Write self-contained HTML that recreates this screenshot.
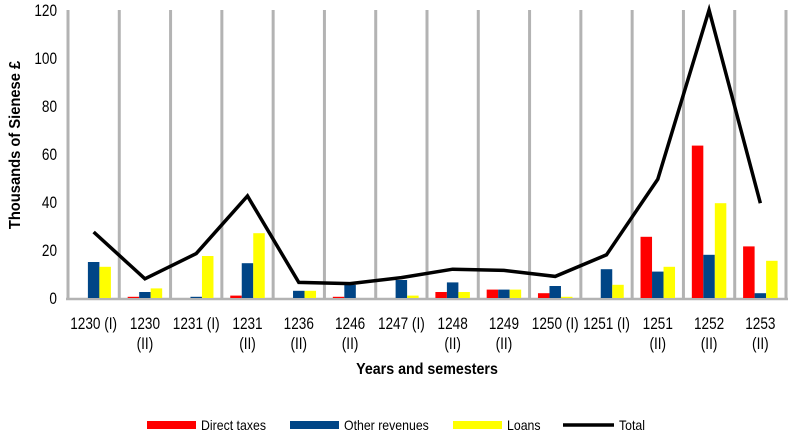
<!DOCTYPE html>
<html><head><meta charset="utf-8"><style>
body{margin:0;background:#fff;}
svg text{font-family:"Liberation Sans Narrow","Liberation Sans",Arial,sans-serif;}
</style></head><body>
<svg id="chart" width="791" height="433" viewBox="0 0 791 433">
<g id="grid"></g>
<g id="bars"></g>
<g id="line"></g>
<g id="yt"></g>
<g id="xt"></g>
<text transform="translate(20 145) rotate(-90) scale(0.92 1)" text-anchor="middle" font-size="16" font-weight="bold">Thousands of Sienese £</text>
<text transform="translate(427 374) scale(0.92 1)" text-anchor="middle" font-size="15.5" font-weight="bold">Years and semesters</text>
<g>
<rect x="147" y="421" width="49" height="8" fill="#ff0000"/>
<text transform="translate(201 430) scale(0.88 1)" font-size="14">Direct taxes</text>
<rect x="290" y="421" width="49" height="8" fill="#004586"/>
<text transform="translate(344 430) scale(0.88 1)" font-size="14">Other revenues</text>
<rect x="453" y="421" width="49" height="8" fill="#ffff00"/>
<text transform="translate(507 430) scale(0.88 1)" font-size="14">Loans</text>
<line x1="563" y1="425" x2="614" y2="425" stroke="#000" stroke-width="3.5"/>
<text transform="translate(619 430) scale(0.88 1)" font-size="14">Total</text>
</g>
</svg>
<script>
const categories=[["1230 (I)"],["1230","(II)"],["1231 (I)"],["1231","(II)"],["1236","(II)"],["1246","(II)"],["1247 (I)"],["1248","(II)"],["1249","(II)"],["1250 (I)"],["1251 (I)"],["1251","(II)"],["1252","(II)"],["1253","(II)"]];
const directTaxes=[0,0.5,0,1,0,0.5,0,2.5,3.5,2,0,25.5,63.5,21.5];
const otherRevenues=[15,2.5,0.5,14.5,3,5.5,7.5,6.5,3.5,5,12,11,18,2];
const loans=[13,4,17.5,27,3,0,1,2.5,3.5,0.5,5.5,13,39.5,15.5];
const total=[27.5,8,18.5,42.5,6.5,6,8.5,12,11.5,9,18,49.5,120,39.5];
const yTicks=[0,20,40,60,80,100,120];
const NS='http://www.w3.org/2000/svg';
const X0=68,W=718,Y0=298,YTOP=10,YMAX=120;
const step=W/categories.length;
const y=v=>Y0-(v/YMAX)*(Y0-YTOP);
const xc=i=>X0+step*(i+0.5);
function mk(t,a,p){const e=document.createElementNS(NS,t);for(const k in a)e.setAttribute(k,a[k]);p.appendChild(e);return e;}
const grid=document.getElementById('grid');
for(let i=0;i<=categories.length;i++){
 const l=mk('line',{x1:X0+step*i,x2:X0+step*i,y1:YTOP,y2:Y0,stroke:'#b3b3b3','stroke-width':3},grid);
 
 
}
const ax=mk('line',{x1:X0-2,x2:X0+W+2,y1:Y0+1,y2:Y0+1,stroke:'#b3b3b3','stroke-width':2.5},grid);


const bars=document.getElementById('bars');
const series=[[directTaxes,'#ff0000','direct-taxes'],[otherRevenues,'#004586','other-revenues'],[loans,'#ffff00','loans']];
const bw=11.5;
series.forEach((s,si)=>{s[0].forEach((v,i)=>{
 const bx=xc(i)+(si-1.5)*bw;
 const r=mk('rect',{x:bx,y:y(v),width:bw,height:Y0-y(v),fill:s[1]},bars);
 
 
});});
const pl=mk('polyline',{points:total.map((v,i)=>xc(i)+','+y(v)).join(' '),fill:'none',stroke:'#000','stroke-width':3.5,'stroke-linejoin':'miter'},document.getElementById('line'));


const yt=document.getElementById('yt');
yTicks.forEach(v=>{
 const t=mk('text',{transform:'translate(57 '+(y(v)+6)+') scale(0.8 1)','text-anchor':'end','font-size':17},yt);
 t.textContent=v;
 
 
});
const xt=document.getElementById('xt');
categories.forEach((c,i)=>{c.forEach((ln,j)=>{
 const t=mk('text',{transform:'translate('+xc(i)+' '+(329+j*20)+') scale(0.8 1)','text-anchor':'middle','font-size':17},xt);
 t.textContent=ln;
 
 
});});
</script>
</body></html>
